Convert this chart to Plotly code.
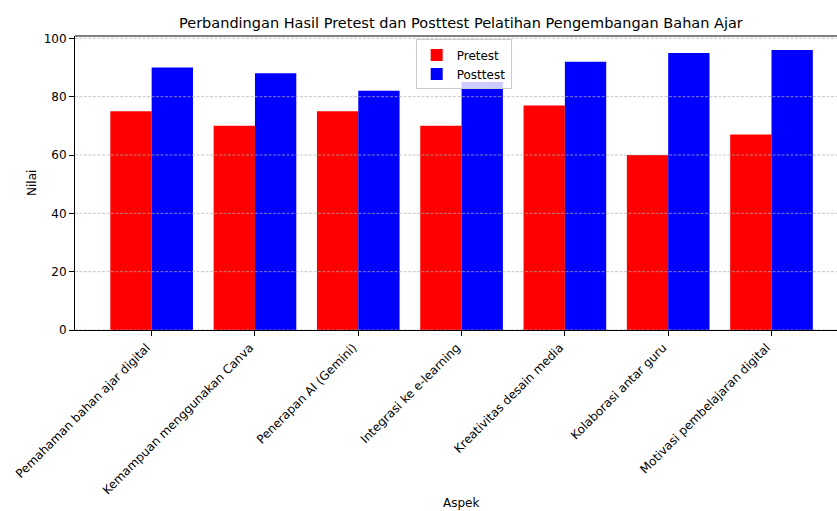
import plotly.graph_objects as go

categories = [
    "Pemahaman bahan ajar digital",
    "Kemampuan menggunakan Canva",
    "Penerapan AI (Gemini)",
    "Integrasi ke e-learning",
    "Kreativitas desain media",
    "Kolaborasi antar guru",
    "Motivasi pembelajaran digital",
]
pretest = [75, 70, 75, 70, 77, 60, 67]
posttest = [90, 88, 82, 85, 92, 95, 96]
y_ticks = [0, 20, 40, 60, 80, 100]

W, H = 837, 511
L, R, T, B = 75, 0, 35.5, 181

FONT = "DejaVu Sans"
x_idx = list(range(len(categories)))

fig = go.Figure()
fig.add_trace(go.Bar(x=x_idx, y=pretest, name="Pretest", marker=dict(color="#ff0000", line=dict(width=0))))
fig.add_trace(go.Bar(x=x_idx, y=posttest, name="Posttest", marker=dict(color="#0000ff", line=dict(width=0))))

shapes = []
for v in y_ticks:
    shapes.append(dict(type="line", xref="paper", yref="y", x0=0, x1=1, y0=v, y1=v,
                       line=dict(color="rgba(176,176,176,0.7)", width=1, dash="3px,1.5px"), layer="above"))
shapes.append(dict(type="line", xref="paper", yref="paper", x0=0, x1=1, y0=1, y1=1,
                   line=dict(color="black", width=1), layer="above"))

plot_w = W - L - R
plot_h = H - T - B
fig.update_layout(
    width=W, height=H,
    margin=dict(l=L, r=R, t=T, b=B, pad=0, autoexpand=False),
    paper_bgcolor="white", plot_bgcolor="white",
    font=dict(family=FONT, size=12, color="black"),
    barmode="group", bargap=0.2, bargroupgap=0,
    showlegend=True,
    legend=dict(x=(415.7 - L) / plot_w, y=(H - B - 39) / plot_h, xanchor="left", yanchor="top",
                bgcolor="rgba(255,255,255,0.8)", bordercolor="#cccccc", borderwidth=1,
                font=dict(size=12), tracegroupgap=0),
    xaxis=dict(range=[-0.742, 6.634], tickmode="array", tickvals=x_idx, ticktext=categories,
               tickangle=-45, showgrid=False, zeroline=False, showline=True, linecolor="black",
               linewidth=1, ticks="outside", ticklen=5, tickcolor="black", tickfont=dict(size=12),
               automargin=False, ticklabelshift=-5),
    yaxis=dict(range=[0, 100.8], tickmode="array", tickvals=y_ticks, showgrid=False, zeroline=False,
               showline=True, linecolor="black", linewidth=1, ticks="outside", ticklen=5,
               tickcolor="black", tickfont=dict(size=12), automargin=False),
    shapes=shapes,
    annotations=[
        dict(text="Perbandingan Hasil Pretest dan Posttest Pelatihan Pengembangan Bahan Ajar",
             xref="paper", yref="paper", x=(461 - L) / plot_w, y=(H - B - 22) / plot_h,
             xanchor="center", yanchor="middle", showarrow=False, font=dict(size=14.5)),
        dict(text="Nilai", xref="paper", yref="paper", x=(32 - L) / plot_w, y=0.5, textangle=-90,
             xanchor="center", yanchor="middle", showarrow=False, font=dict(size=12)),
        dict(text="Aspek", xref="paper", yref="paper", x=(461 - L) / plot_w, y=(H - B - 503) / plot_h,
             xanchor="center", yanchor="middle", showarrow=False, font=dict(size=12)),
    ],
)

fig.write_html("out.html", config={"displayModeBar": False},
               post_script="document.body.style.margin='0';document.body.style.padding='0';")
